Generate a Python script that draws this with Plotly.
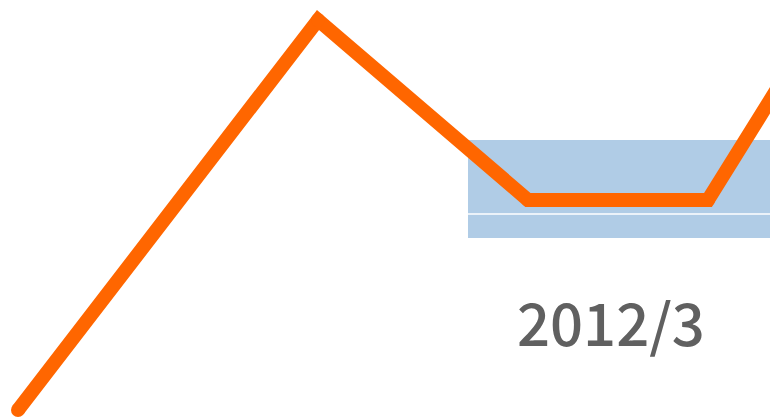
import plotly.graph_objects as go

# Data (x in month-position units, y in value units)
x_pos = [0.6, 10.6, 17.6, 23.6, 26.67]
values = [0.7, 39.7, 21.7, 21.7, 36.5]

# Highlighted band and label
band_x = [15.6, 26.0]
band_y = [17.9, 27.7]
band_split = 20.3
label_text = "2012/3"
label_pos = (20.37, 9.6)

fig = go.Figure()

fig.add_trace(go.Scatter(
    x=x_pos, y=values, mode="lines+markers",
    line=dict(color="#ff6600", width=14),
    marker=dict(color="#ff6600", size=14),
    hoverinfo="skip", showlegend=False
))

fig.add_shape(type="rect", x0=band_x[0], x1=band_x[1], y0=band_y[0], y1=band_y[1],
              fillcolor="#b0cce6", line=dict(width=0), layer="below")
fig.add_shape(type="line", x0=band_x[0], x1=band_x[1], y0=band_split, y1=band_split,
              line=dict(color="white", width=1.5), layer="below")

fig.add_annotation(x=label_pos[0], y=label_pos[1], text=label_text, showarrow=False,
                   font=dict(family="Noto Sans CJK JP", size=58, color="#606060", weight=500))

fig.update_layout(
    width=770, height=417,
    margin=dict(l=0, r=0, t=0, b=0),
    paper_bgcolor="white", plot_bgcolor="white",
    xaxis=dict(range=[0, 25.667], visible=False, fixedrange=True),
    yaxis=dict(range=[0, 41.7], visible=False, fixedrange=True),
)

fig.write_html("out.html", config={"displayModeBar": False},
               post_script="document.body.style.margin='0';")
